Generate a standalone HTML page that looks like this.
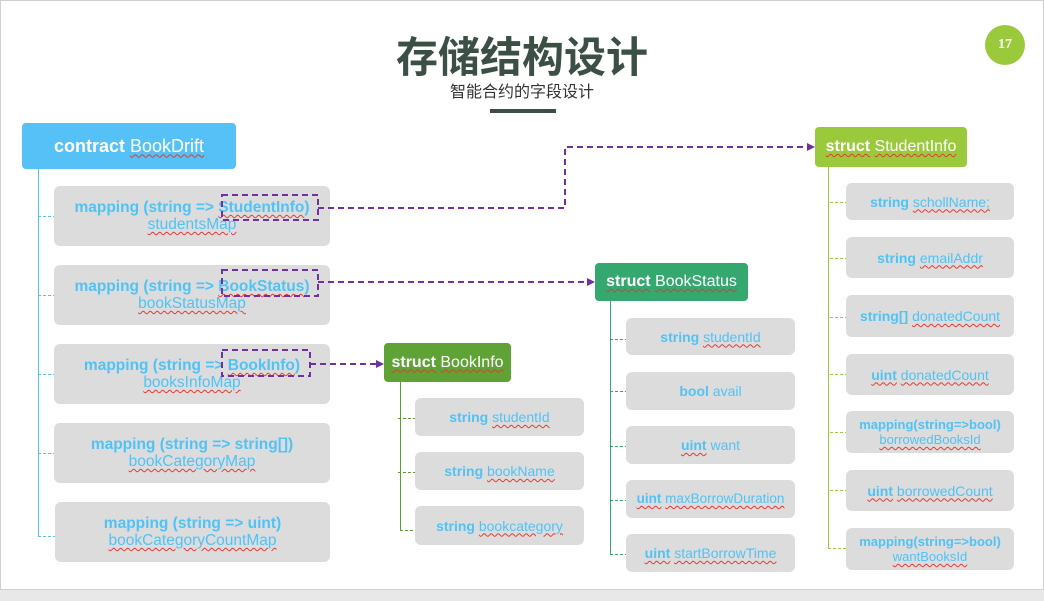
<!DOCTYPE html>
<html><head><meta charset="utf-8"><style>
*{margin:0;padding:0;box-sizing:border-box}
body{width:1044px;height:601px;background:#fff;position:relative;overflow:hidden;font-family:"Liberation Sans","Noto Sans CJK SC",sans-serif}
.a{position:absolute}
.box{position:absolute;background:#dcdcdc;border-radius:6px;display:flex;flex-direction:column;align-items:center;justify-content:center;color:#4fc3f7;font-size:14px;text-align:center;line-height:16px}
.box b{font-weight:bold}
.m{font-size:15.5px;line-height:17px}
.hd{position:absolute;border-radius:4px;color:#fff;font-size:16px;display:flex;align-items:center;justify-content:center}
.w{text-decoration:underline wavy #e53935;text-decoration-thickness:1px;text-underline-offset:2px}
</style></head><body>
<div class="a" style="left:0;top:0;width:1044px;height:590px;border:1px solid #d0d0d0"></div>
<div class="a" style="left:0;top:590px;width:1044px;height:11px;background:#e8e8e8"></div>
<div class="a" style="left:0;top:28px;width:1044px;text-align:center;font-size:42px;font-weight:bold;color:#3b4f45;font-family:'Noto Sans CJK SC',sans-serif;line-height:54px">存储结构设计</div>
<div class="a" style="left:0;top:80px;width:1044px;text-align:center;font-size:16px;color:#333;font-family:'Noto Sans CJK SC',sans-serif;line-height:20px">智能合约的字段设计</div>
<div class="a" style="left:490px;top:109px;width:66px;height:4px;background:#3b4f45"></div>
<div class="a" style="left:985px;top:25px;width:40px;height:40px;border-radius:50%;background:#9aca3c;color:#fff;font-size:14px;font-weight:bold;display:flex;align-items:center;justify-content:center;font-family:'Liberation Serif',serif">17</div>

<svg class="a" style="left:0;top:0" width="1044" height="601">
<g stroke="#55c1f6" stroke-width="1"><line x1="38.5" y1="169" x2="38.5" y2="537"/></g>
<g stroke="#55c1f6" stroke-dasharray="3,2"><line x1="38" y1="216.5" x2="54" y2="216.5"/><line x1="38" y1="295.5" x2="54" y2="295.5"/><line x1="38" y1="374.5" x2="54" y2="374.5"/><line x1="38" y1="453.5" x2="54" y2="453.5"/><line x1="38" y1="536.5" x2="55" y2="536.5"/></g>
<line x1="400.5" y1="382" x2="400.5" y2="530" stroke="#5a9e32"/>
<g stroke="#5a9e32" stroke-dasharray="3,2"><line x1="398" y1="418.5" x2="415" y2="418.5"/><line x1="398" y1="472.5" x2="415" y2="472.5"/><line x1="400" y1="530.5" x2="415" y2="530.5"/></g>
<line x1="610.5" y1="301" x2="610.5" y2="555" stroke="#35a870"/>
<g stroke="#35a870" stroke-dasharray="3,2"><line x1="610" y1="339.5" x2="626" y2="339.5"/><line x1="610" y1="391.5" x2="626" y2="391.5"/><line x1="610" y1="446.5" x2="626" y2="446.5"/><line x1="610" y1="500.5" x2="626" y2="500.5"/><line x1="610" y1="554.5" x2="626" y2="554.5"/></g>
<line x1="828.5" y1="167" x2="828.5" y2="548" stroke="#9aca3c"/>
<g stroke="#9aca3c" stroke-dasharray="3,2"><line x1="830" y1="202.5" x2="846" y2="202.5"/><line x1="830" y1="258.5" x2="846" y2="258.5"/><line x1="830" y1="317.5" x2="846" y2="317.5"/><line x1="830" y1="374.5" x2="846" y2="374.5"/><line x1="830" y1="432.5" x2="846" y2="432.5"/><line x1="830" y1="490.5" x2="846" y2="490.5"/><line x1="828" y1="548.5" x2="846" y2="548.5"/></g>
</svg>

<div class="hd" style="left:22px;top:123px;width:214px;height:46px;background:#55c1f6;font-size:18px"><b>contract</b>&nbsp;<span class="w">BookDrift</span></div>
<div class="box m" style="left:54px;top:186px;width:276px;height:60px"><div><b>mapping (string =&gt; <span class="w">StudentInfo</span>)</b></div><div class="w">studentsMap</div></div>
<div class="box m" style="left:54px;top:265px;width:276px;height:60px"><div><b>mapping (string =&gt; <span class="w">BookStatus</span>)</b></div><div class="w">bookStatusMap</div></div>
<div class="box m" style="left:54px;top:344px;width:276px;height:60px"><div><b>mapping (string =&gt; <span class="w">BookInfo</span>)</b></div><div class="w">booksInfoMap</div></div>
<div class="box m" style="left:54px;top:423px;width:276px;height:60px"><div><b>mapping (string =&gt; string[])</b></div><div class="w">bookCategoryMap</div></div>
<div class="box m" style="left:55px;top:502px;width:275px;height:60px"><div><b>mapping (string =&gt; uint)</b></div><div class="w">bookCategoryCountMap</div></div>

<div class="hd" style="left:384px;top:343px;width:127px;height:39px;background:#5fa236"><b class="w">struct</b>&nbsp;<span class="w">BookInfo</span></div>
<div class="box" style="left:415px;top:398px;width:169px;height:38px"><div><b>string</b> <span class="w">studentId</span></div></div>
<div class="box" style="left:415px;top:452px;width:169px;height:38px"><div><b>string</b> <span class="w">bookName</span></div></div>
<div class="box" style="left:415px;top:506px;width:169px;height:39px"><div><b>string</b> <span class="w">bookcategory</span></div></div>

<div class="hd" style="left:595px;top:263px;width:153px;height:38px;background:#35a870"><b class="w">struct</b>&nbsp;<span class="w">BookStatus</span></div>
<div class="box" style="left:626px;top:318px;width:169px;height:37px"><div><b>string</b> <span class="w">studentId</span></div></div>
<div class="box" style="left:626px;top:372px;width:169px;height:38px"><div><b>bool</b> avail</div></div>
<div class="box" style="left:626px;top:426px;width:169px;height:38px"><div><b class="w">uint</b> want</div></div>
<div class="box" style="left:626px;top:480px;width:169px;height:38px;font-size:13.5px"><div><b class="w">uint</b> <span class="w">maxBorrowDuration</span></div></div>
<div class="box" style="left:626px;top:534px;width:169px;height:38px"><div><b class="w">uint</b> <span class="w">startBorrowTime</span></div></div>

<div class="hd" style="left:815px;top:127px;width:152px;height:40px;background:#9aca3c"><b class="w">struct</b>&nbsp;<span class="w">StudentInfo</span></div>
<div class="box" style="left:846px;top:183px;width:168px;height:37px"><div><b>string</b> <span class="w">schollName;</span></div></div>
<div class="box" style="left:846px;top:237px;width:168px;height:41px"><div><b>string</b> <span class="w">emailAddr</span></div></div>
<div class="box" style="left:846px;top:295px;width:168px;height:42px"><div><b>string[]</b> <span class="w">donatedCount</span></div></div>
<div class="box" style="left:846px;top:354px;width:168px;height:41px"><div><b class="w">uint</b> <span class="w">donatedCount</span></div></div>
<div class="box" style="left:846px;top:411px;width:168px;height:42px;font-size:13px;line-height:15px"><div><b>mapping(string=&gt;bool)</b></div><div class="w">borrowedBooksId</div></div>
<div class="box" style="left:846px;top:470px;width:168px;height:41px"><div><b class="w">uint</b> <span class="w">borrowedCount</span></div></div>
<div class="box" style="left:846px;top:528px;width:168px;height:42px;font-size:13px;line-height:15px"><div><b>mapping(string=&gt;bool)</b></div><div class="w">wantBooksId</div></div>

<svg class="a" style="left:0;top:0" width="1044" height="601">
<g stroke="#7030a0" stroke-width="2" stroke-dasharray="6,4" fill="none">
<rect x="222" y="195" width="96" height="25"/>
<rect x="222" y="270" width="96" height="26"/>
<rect x="222" y="350" width="88" height="26"/>
<polyline points="318,208 565,208 565,147 808,147"/>
<line x1="318" y1="282" x2="588" y2="282"/>
<line x1="310" y1="364" x2="377" y2="364"/>
</g>
<g fill="#7030a0"><polygon points="815,147 807,143 807,151"/><polygon points="595,282 587,278 587,286"/><polygon points="384,364 376,360 376,368"/></g>
</svg>
</body></html>
